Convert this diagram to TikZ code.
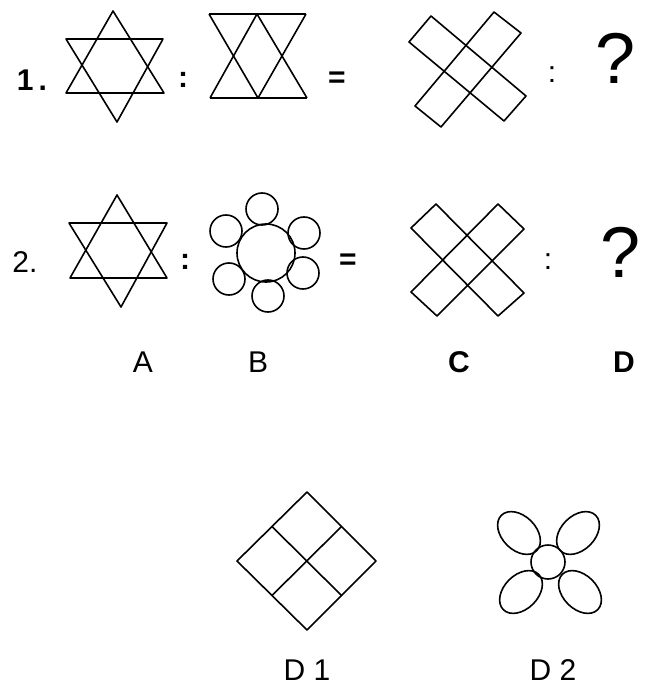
\documentclass[tikz,border=0pt]{standalone}
\usepackage{fontspec}
\setmainfont{Liberation Sans}
\begin{document}
\begin{tikzpicture}[x=1pt,y=-1pt,
  ln/.style={line width=1.6pt, line join=round},
  lbl/.style={inner sep=0pt, font=\fontsize{30}{34}\selectfont},
  blbl/.style={inner sep=0pt, font=\fontsize{30}{34}\selectfont\bfseries},
  qm/.style={inner sep=0pt, font=\fontsize{72}{80}\selectfont}]
\useasboundingbox[fill=white] (0,0) rectangle (645,692);

% ---------- Row 1 ----------
\node[blbl] (n1) at (32,80) {1\,.};
\draw[ln] (113,11) -- (66,93) -- (164,93) -- cycle;
\draw[ln] (66,39) -- (163,39) -- (117,122) -- cycle;
\node[blbl] (c1a) at (183,80) {:};
\draw[ln] (209,14) -- (306,14);
\draw[ln] (210,98) -- (307,98);
\draw[ln] (209,14) -- (258,98);
\draw[ln] (257,14) -- (210,98);
\draw[ln] (257,14) -- (307,98);
\draw[ln] (306,14) -- (258,98);
\node[blbl] (e1) at (337,80) {=};
\draw[ln] (431,16) -- (409,42) -- (504,121) -- (526,96) -- cycle;
\draw[ln] (494,12) -- (521,33) -- (441,127) -- (415,106) -- cycle;
\node[lbl] (c1b) at (552,75) {:};
\node[qm] (q1) at (616,58) {?};

% ---------- Row 2 ----------
\node[lbl] (n2) at (25,262) {2.};
\draw[ln] (117,195) -- (70,278) -- (167,278) -- cycle;
\draw[ln] (69,223) -- (167,223) -- (121,307) -- cycle;
\node[blbl] (c2a) at (185,262) {:};
\draw[ln] (266,253) circle[radius=29pt];
\draw[ln] (262,209) circle[radius=16pt];
\draw[ln] (226,231) circle[radius=16pt];
\draw[ln] (304,233) circle[radius=16pt];
\draw[ln] (229,279) circle[radius=16pt];
\draw[ln] (303,273) circle[radius=16pt];
\draw[ln] (268,296) circle[radius=16pt];
\node[blbl] (e2) at (348,262) {=};
\draw[ln] (436,204) -- (411,228) -- (498,316) -- (524,293) -- cycle;
\draw[ln] (498,204) -- (524,229) -- (437,316) -- (411,292) -- cycle;
\node[lbl] (c2b) at (548,262) {:};
\node[qm] (q2) at (621,252) {?};

% ---------- Labels ----------
\node[lbl] (la) at (143,362) {A};
\node[lbl] (lb) at (258,362) {B};
\node[blbl] (lc) at (459,362) {C};
\node[blbl] (ld) at (624,362) {D};

% ---------- D1 ----------
\draw[ln] (307,492) -- (376,561) -- (307,630) -- (237,561) -- cycle;
\draw[ln] (272,526.5) -- (341.5,595.5);
\draw[ln] (341.5,526.5) -- (272,595.5);
\node[lbl] (d1) at (307,670) {D 1};

% ---------- D2 ----------
\draw[ln] (548,562) circle[radius=17pt];
\draw[ln, rotate around={-45:(519,533)}] (519,533) ellipse[x radius=25pt, y radius=17pt];
\draw[ln, rotate around={45:(578,533)}] (578,533) ellipse[x radius=25pt, y radius=17pt];
\draw[ln, rotate around={45:(521,592)}] (521,592) ellipse[x radius=25pt, y radius=17pt];
\draw[ln, rotate around={-45:(580,592)}] (580,592) ellipse[x radius=25pt, y radius=17pt];
\node[lbl] (d2) at (553,670) {D 2};
\end{tikzpicture}
\end{document}
